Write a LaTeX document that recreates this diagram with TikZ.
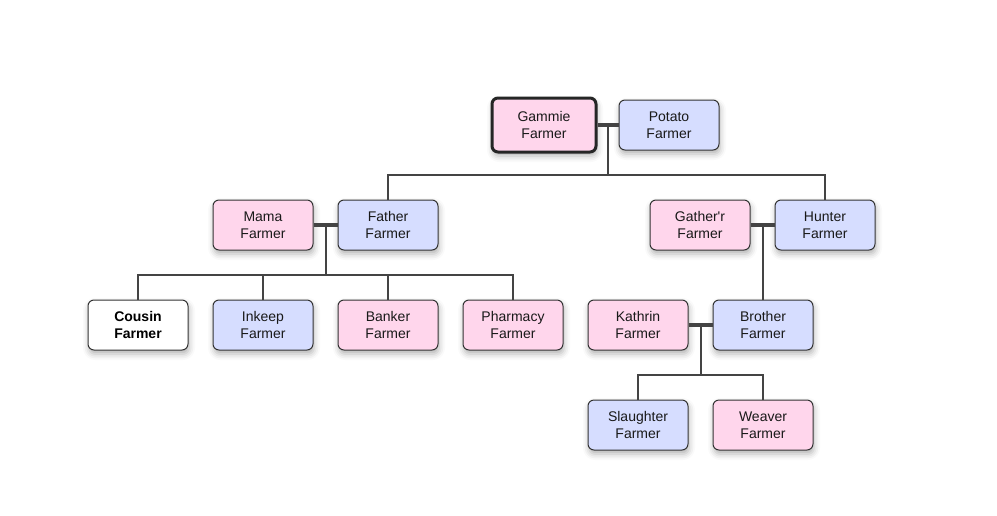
\documentclass[tikz,border=0pt]{standalone}
\usepackage{fontspec}
\setmainfont{Liberation Sans}
\usetikzlibrary{calc,shadows.blur}
\definecolor{pinkf}{HTML}{FFD6EC}
\definecolor{bluef}{HTML}{D6DDFF}
\definecolor{edge}{HTML}{333333}
\definecolor{conn}{HTML}{444444}
\tikzset{
  person/.style={draw=edge, line width=1pt, rounded corners=6pt, minimum width=100pt, minimum height=50pt,
    align=center, inner sep=0pt, font=\fontsize{14}{17}\selectfont, text=black!90,
    blur shadow={shadow xshift=1pt, shadow yshift=-4pt, shadow blur radius=6pt, shadow opacity=30}},
  fem/.style={person, fill=pinkf},
  mal/.style={person, fill=bluef},
  couple/.style={draw=conn, line width=4pt},
  kid/.style={draw=conn, line width=2pt},
}
\begin{document}
\begin{tikzpicture}[x=1pt,y=-1pt]
\useasboundingbox (0,0) rectangle (997,515);
% row 1
\node[fem, line width=3pt, draw=black!85, minimum width=104pt, minimum height=54pt] (gammie) at (544,125) {Gammie\\Farmer};
\node[mal] (potato) at (669,125) {Potato\\Farmer};
% row 2
\node[fem] (mama) at (263,225) {Mama\\Farmer};
\node[mal] (father) at (388,225) {Father\\Farmer};
\node[fem] (gather) at (700,225) {Gather\textquotesingle r\\Farmer};
\node[mal] (hunter) at (825,225) {Hunter\\Farmer};
% row 3
\node[person, fill=white, font=\fontsize{14}{17}\selectfont\bfseries, text=black] (cousin) at (138,325) {Cousin\\Farmer};
\node[mal] (inkeep) at (263,325) {Inkeep\\Farmer};
\node[fem] (banker) at (388,325) {Banker\\Farmer};
\node[fem] (pharmacy) at (513,325) {Pharmacy\\Farmer};
\node[fem] (kathrin) at (638,325) {Kathrin\\Farmer};
\node[mal] (brother) at (763,325) {Brother\\Farmer};
% row 4
\node[mal] (slaughter) at (638,425) {Slaughter\\Farmer};
\node[fem] (weaver) at (763,425) {Weaver\\Farmer};
% couples
\coordinate (c1) at ($(gammie.east)!0.5!(potato.west)$);
\draw[couple] (gammie.east) -- (potato.west);
\draw[kid] (c1) -- ++(0,50) -| (father.north);
\draw[kid] (c1) ++(0,50) -| (hunter.north);
\coordinate (c2) at ($(mama.east)!0.5!(father.west)$);
\draw[couple] (mama.east) -- (father.west);
\draw[kid] (c2) -- ++(0,50) -| (cousin.north);
\draw[kid] (c2) ++(0,50) -| (inkeep.north);
\draw[kid] (c2) ++(0,50) -| (banker.north);
\draw[kid] (c2) ++(0,50) -| (pharmacy.north);
\draw[couple] (gather.east) -- (hunter.west);
\draw[kid] (brother.north) -- (brother.north |- gather.east);
\coordinate (c4) at ($(kathrin.east)!0.5!(brother.west)$);
\draw[couple] (kathrin.east) -- (brother.west);
\draw[kid] (c4) -- ++(0,50) -| (slaughter.north);
\draw[kid] (c4) ++(0,50) -| (weaver.north);
\end{tikzpicture}
\end{document}
